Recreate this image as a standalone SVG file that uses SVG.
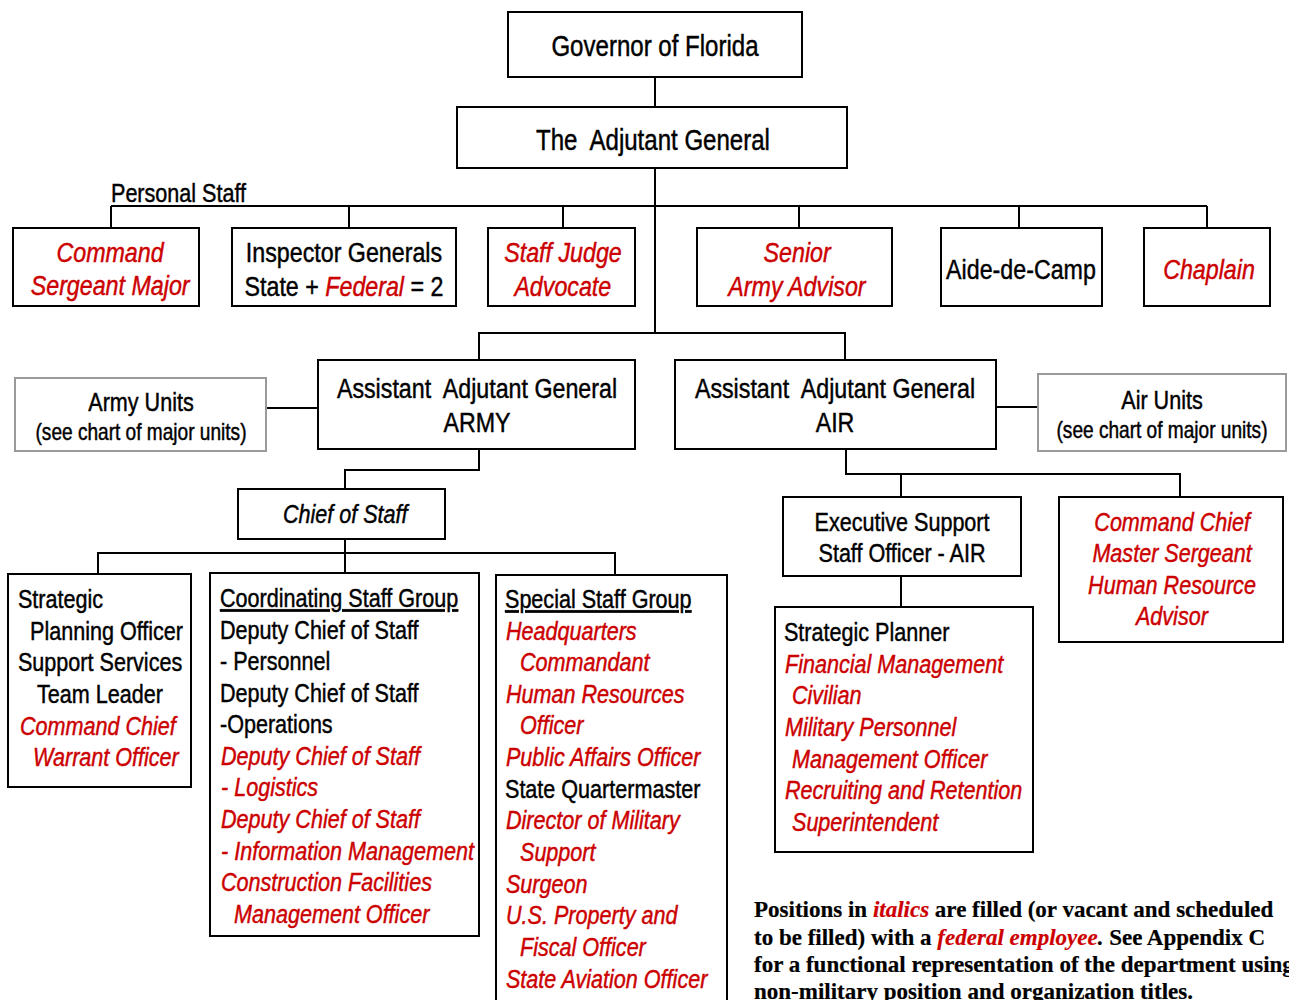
<svg xmlns="http://www.w3.org/2000/svg" width="1289" height="1000" viewBox="0 0 1289 1000">
<style>
.box{fill:#fff;stroke:#000;stroke-width:2}
.gbox{fill:#fff;stroke:#9a9a9a;stroke-width:2}
.ln{fill:none;stroke:#000;stroke-width:2}
text{font-family:"Liberation Sans Narrow","Arial Narrow","Liberation Sans",Arial,sans-serif;font-size:26px;fill:#000;stroke:#000;stroke-width:.45px;transform-box:fill-box;transform-origin:0% 50%;transform:scaleX(.83)}
.c{text-anchor:middle;transform-origin:50% 50%}
.big{font-size:29px}
.m{font-size:28px}
.s{font-size:23px}
.r{fill:#cc0000;stroke:#cc0000;font-style:italic}
.i{font-style:italic}
.u{text-decoration:underline}
text.note{font-family:"Liberation Serif","Times New Roman",serif;font-weight:bold;font-size:23px;stroke-width:.2px;transform:none}
</style>
<rect width="1289" height="1000" fill="#fff"/>
<g id="connectors">
<path class="ln" d="M655 77V107M655 168V333M111 206H1207M111 206V228M349 206V228M563 206V228M799 206V228M1019 206V228M1207 206V228"/>
<path class="ln" d="M479 360V333H845V360M266 408H318M996 407H1038"/>
<path class="ln" d="M479 449V470H345V489M345 539V553M98 574V553H615V575M345 553V573"/>
<path class="ln" d="M846 449V474H1180V497M901 474V497M901 576V607"/>
</g>
<g id="governor"><rect class="box" x="508" y="12" width="294" height="65"/><text class="c big" x="655" y="56">Governor of Florida</text></g>
<g id="tag"><rect class="box" x="457" y="107" width="390" height="61"/><text class="c big" x="653" y="150">The&#160; Adjutant General</text></g>
<g id="personal-staff-label"><text x="111" y="202">Personal Staff</text></g>
<g id="csm"><rect class="box" x="13" y="228" width="186" height="78"/><text class="c m r" x="110" y="262">Command</text><text class="c m r" x="110" y="295">Sergeant Major</text></g>
<g id="ig"><rect class="box" x="232" y="228" width="224" height="78"/><text class="c m" x="344" y="262">Inspector Generals</text><text class="c m" x="344" y="296">State + <tspan class="r">Federal</tspan> = 2</text></g>
<g id="sja"><rect class="box" x="488" y="228" width="147" height="78"/><text class="c m r" x="563" y="262">Staff Judge</text><text class="c m r" x="563" y="296">Advocate</text></g>
<g id="saa"><rect class="box" x="697" y="228" width="195" height="78"/><text class="c m r" x="797" y="262">Senior</text><text class="c m r" x="797" y="296">Army Advisor</text></g>
<g id="adc"><rect class="box" x="941" y="228" width="161" height="78"/><text class="c m" x="1021" y="279">Aide-de-Camp</text></g>
<g id="chaplain"><rect class="box" x="1144" y="228" width="126" height="78"/><text class="c m r" x="1209" y="279">Chaplain</text></g>
<g id="aag-army"><rect class="box" x="318" y="360" width="317" height="89"/><text class="c m" x="477" y="398">Assistant&#160; Adjutant General</text><text class="c m" x="477" y="432">ARMY</text></g>
<g id="army-units"><rect class="gbox" x="15" y="378" width="251" height="73"/><text class="c" x="141" y="411">Army Units</text><text class="c s" x="141" y="440">(see chart of major units)</text></g>
<g id="aag-air"><rect class="box" x="675" y="360" width="321" height="89"/><text class="c m" x="835" y="398">Assistant&#160; Adjutant General</text><text class="c m" x="835" y="432">AIR</text></g>
<g id="air-units"><rect class="gbox" x="1038" y="374" width="248" height="77"/><text class="c" x="1162" y="409">Air Units</text><text class="c s" x="1162" y="438">(see chart of major units)</text></g>
<g id="chief-of-staff"><rect class="box" x="238" y="489" width="207" height="50"/><text class="c i" x="345" y="523">Chief of Staff</text></g>
<g id="strategic"><rect class="box" x="8" y="574" width="183" height="213"/>
<text x="18" y="608">Strategic</text><text x="30" y="640">Planning Officer</text><text x="18" y="671">Support Services</text><text x="37" y="703">Team Leader</text><text class="r" x="20" y="735">Command Chief</text><text class="r" x="33" y="766">Warrant Officer</text></g>
<g id="coordinating"><rect class="box" x="210" y="573" width="269" height="363"/>
<text class="u" x="220" y="607">Coordinating Staff Group</text><text x="220" y="639">Deputy Chief of Staff</text><text x="220" y="670">- Personnel</text><text x="220" y="702">Deputy Chief of Staff</text><text x="220" y="733">-Operations</text><text class="r" x="221" y="765">Deputy Chief of Staff</text><text class="r" x="221" y="796">- Logistics</text><text class="r" x="221" y="828">Deputy Chief of Staff</text><text class="r" x="221" y="860">- Information Management</text><text class="r" x="221" y="891">Construction Facilities</text><text class="r" x="234" y="923">Management Officer</text></g>
<g id="special"><rect class="box" x="496" y="575" width="231" height="430"/>
<text class="u" x="505" y="608">Special Staff Group</text><text class="r" x="506" y="640">Headquarters</text><text class="r" x="520" y="671">Commandant</text><text class="r" x="506" y="703">Human Resources</text><text class="r" x="520" y="734">Officer</text><text class="r" x="506" y="766">Public Affairs Officer</text><text x="505" y="798">State Quartermaster</text><text class="r" x="506" y="829">Director of Military</text><text class="r" x="520" y="861">Support</text><text class="r" x="506" y="893">Surgeon</text><text class="r" x="506" y="924">U.S. Property and</text><text class="r" x="520" y="956">Fiscal Officer</text><text class="r" x="506" y="988">State Aviation Officer</text></g>
<g id="exec-support"><rect class="box" x="783" y="497" width="238" height="79"/><text class="c" x="902" y="531">Executive Support</text><text class="c" x="902" y="562">Staff Officer - AIR</text></g>
<g id="strategic-planner"><rect class="box" x="775" y="607" width="258" height="245"/>
<text x="784" y="641">Strategic Planner</text><text class="r" x="785" y="673">Financial Management</text><text class="r" x="792" y="704">Civilian</text><text class="r" x="785" y="736">Military Personnel</text><text class="r" x="792" y="768">Management Officer</text><text class="r" x="785" y="799">Recruiting and Retention</text><text class="r" x="792" y="831">Superintendent</text></g>
<g id="command-chief"><rect class="box" x="1059" y="497" width="224" height="145"/>
<text class="c r" x="1172" y="531">Command Chief</text><text class="c r" x="1172" y="562">Master Sergeant</text><text class="c r" x="1172" y="594">Human Resource</text><text class="c r" x="1172" y="625">Advisor</text></g>
<g id="footnote">
<text class="note" x="754" y="917">Positions in <tspan class="r">italics</tspan> are filled (or vacant and scheduled</text>
<text class="note" x="754" y="945">to be filled) with a <tspan class="r">federal employee</tspan><tspan class="i">.</tspan>  See Appendix C</text>
<text class="note" x="754" y="972">for a functional representation of the department using</text>
<text class="note" x="754" y="999">non-military position and organization titles.</text>
</g>
</svg>
